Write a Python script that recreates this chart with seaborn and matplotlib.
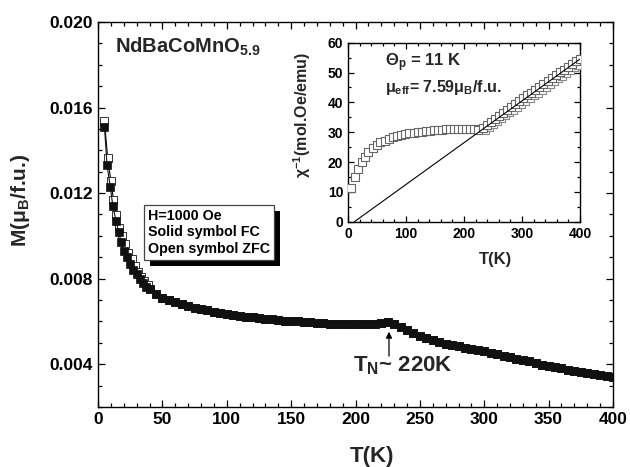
import numpy as np
import matplotlib
matplotlib.use("Agg")
import matplotlib.pyplot as plt
from matplotlib.patches import Rectangle
from matplotlib.ticker import MultipleLocator
import seaborn as sns

# ---- data ----
# main panel: M vs T, field-cooled (solid) and zero-field-cooled (open)
fc_T = [5, 7, 9.5, 11.5, 14, 16, 18, 20, 22.5, 25, 27.5, 30, 32.5, 35, 37.5, 40,
        45, 50, 55, 60, 65, 70, 75, 80, 85, 90, 95, 100, 105, 110, 115, 120, 125,
        130, 135, 140, 145, 150, 155, 160, 165, 170, 175, 180, 185, 190, 195, 200,
        205, 210, 215, 220, 225, 230, 235, 240, 245, 250, 255, 260, 265, 270, 275,
        280, 285, 290, 295, 300, 305, 310, 315, 320, 325, 330, 335, 340, 345, 350,
        355, 360, 365, 370, 375, 380, 385, 390, 395, 400]
fc_M = [0.0151, 0.0133, 0.0123, 0.0114, 0.0107, 0.0102, 0.0097, 0.0093, 0.0090,
        0.0087, 0.0084, 0.0082, 0.0080, 0.0078, 0.0076, 0.0075, 0.0073, 0.0071,
        0.0070, 0.0069, 0.0068, 0.00672, 0.00665, 0.00658, 0.00652, 0.00645,
        0.0064, 0.00633, 0.00628, 0.00625, 0.00622, 0.00619, 0.00616, 0.00613,
        0.0061, 0.00607, 0.00604, 0.00602, 0.006, 0.00598, 0.00596, 0.00594,
        0.00592, 0.0059, 0.00589, 0.00587, 0.00586, 0.00586, 0.00586, 0.00588,
        0.0059, 0.00594, 0.00598, 0.0059, 0.00575, 0.0056, 0.00545, 0.0053,
        0.00521, 0.00512, 0.00503, 0.00495, 0.00489, 0.00484, 0.00477, 0.00471,
        0.00465, 0.0046, 0.00453, 0.00446, 0.00439, 0.00432, 0.00426, 0.0042,
        0.00414, 0.00404, 0.00398, 0.00392, 0.00386, 0.0038, 0.00375, 0.0037,
        0.00364, 0.00359, 0.00354, 0.00349, 0.00344, 0.00339]
zfc_T_low = [5, 7.5, 10, 12, 14.2, 16.5, 18.5, 21, 23.5, 26, 28.5, 31, 33.5, 36, 38.5]
zfc_M_low = [0.01536, 0.01363, 0.01257, 0.01169, 0.01099, 0.01037, 0.0100, 0.0096,
             0.0092, 0.0089, 0.0086, 0.0083, 0.0081, 0.0079, 0.0077]
zfc_T = zfc_T_low + fc_T[15:]
zfc_M = zfc_M_low + fc_M[15:]

# inset: inverse susceptibility vs T
chi_T = [5, 12, 18, 24, 29, 35, 43, 50, 56, 64, 71, 78, 85, 92, 99, 106, 113, 120,
         127, 134, 141, 148, 155, 162, 169, 176, 183, 190, 197, 204, 211, 218, 225,
         232, 239, 246, 253, 260, 267, 274, 281, 288, 295, 302, 309, 316, 323, 330,
         337, 344, 351, 358, 365, 372, 379, 386, 393, 400]
chi_inv = [11.3, 15.1, 17.7, 19.9, 21.6, 23.2, 24.7, 25.7, 26.6, 27.2, 27.7, 28.3,
           28.7, 29.0, 29.3, 29.6, 29.8, 30.0, 30.2, 30.4, 30.5, 30.6, 30.7, 30.8,
           30.9, 31.0, 31.0, 31.1, 31.1, 31.1, 31.0, 30.9, 30.8, 31.3, 32.3, 33.3,
           34.3, 35.3, 36.3, 37.3, 38.3, 39.3, 40.3, 41.3, 42.3, 43.3, 44.3, 45.3,
           46.3, 47.3, 48.3, 49.2, 50.1, 51.0, 51.9, 52.8, 53.7, 54.6]
chi2_T = [236, 243, 250, 257, 264, 271, 278, 285, 292, 299, 306, 313, 320, 327,
          334, 341, 348, 355, 362, 369, 376, 383, 390, 397]
chi2_inv = [30.6, 31.6, 32.6, 33.6, 34.6, 35.6, 36.6, 37.6, 38.5, 39.5, 40.4, 41.4,
            42.4, 43.3, 44.3, 45.2, 46.1, 47.1, 48.0, 48.9, 49.8, 50.8, 51.7, 52.6]
cw_T = [11, 400]
cw_chi = [0, 54.5]

# ---- style ----
sns.set_theme(style="ticks")
plt.rcParams['font.family'] = ['Liberation Sans', 'DejaVu Sans']
plt.rcParams['font.weight'] = 'bold'
plt.rcParams['mathtext.fontset'] = 'custom'
plt.rcParams['mathtext.rm'] = 'Liberation Sans:bold'
plt.rcParams['mathtext.it'] = 'Liberation Sans:bold'
plt.rcParams['mathtext.bf'] = 'Liberation Sans:bold'
plt.rcParams['axes.linewidth'] = 1.0


def style_axis(ax, lab_size, maj_len, min_len):
    ax.tick_params(which='both', direction='in', top=True, right=True,
                   colors='black', labelsize=lab_size, width=0.9)
    ax.tick_params(which='major', length=maj_len)
    ax.tick_params(which='minor', length=min_len)
    for s in ax.spines.values():
        s.set_color('black')
    for lab in ax.get_xticklabels() + ax.get_yticklabels():
        lab.set_fontweight('bold')


fig = plt.figure(figsize=(6.3, 4.67), dpi=100)
ax = fig.add_axes([0.1556, 0.1285, 0.8174, 0.8244])

sns.lineplot(x=zfc_T, y=zfc_M, ax=ax, estimator=None, sort=False, color='black',
             linewidth=0.8, marker='s', markersize=5.6, markerfacecolor='white',
             markeredgecolor='#333333', markeredgewidth=0.7)
sns.lineplot(x=fc_T, y=fc_M, ax=ax, estimator=None, sort=False, color='#111111',
             linewidth=0.8, marker='s', markersize=5.8, markerfacecolor='#111111',
             markeredgecolor='#111111', markeredgewidth=0.5)

ax.set_xlim(0, 400)
ax.set_ylim(0.002, 0.020)
ax.xaxis.set_major_locator(MultipleLocator(50))
ax.xaxis.set_minor_locator(MultipleLocator(10))
ax.yaxis.set_major_locator(MultipleLocator(0.004))
ax.yaxis.set_minor_locator(MultipleLocator(0.001))
ax.set_yticks([0.004, 0.008, 0.012, 0.016, 0.020])
ax.set_yticklabels(['0.004', '0.008', '0.012', '0.016', '0.020'])
style_axis(ax, 12.5, 5, 3)

ax.set_xlabel('T(K)', fontsize=16, fontweight='bold')
ax.set_ylabel(r'M(μ$_{B}$/f.u.)', fontsize=15, fontweight='bold')
ax.xaxis.set_label_coords(0.532, -0.102)
ax.yaxis.set_label_coords(-0.128, 0.538)

ax.text(0.033, 0.935, r'NdBaCoMnO$_{5.9}$', transform=ax.transAxes,
        fontsize=14.5, fontweight='bold', va='center', ha='left')

# box with drop shadow
box_txt = 'H=1000 Oe\nSolid symbol FC\nOpen symbol ZFC'
box = ax.text(0.097, 0.515, box_txt, transform=ax.transAxes, fontsize=10.3,
              fontweight='bold', va='top', ha='left', linespacing=1.25, color='black',
              zorder=6,
              bbox=dict(boxstyle='square,pad=0.25', facecolor='white',
                        edgecolor='#444444', linewidth=0.9))
fig.canvas.draw()
bb = box.get_bbox_patch().get_window_extent().transformed(ax.transAxes.inverted())
dx = 6 / ax.bbox.width
dy = 6 / ax.bbox.height
ax.add_patch(Rectangle((bb.x0 + dx, bb.y0 - dy), bb.width, bb.height,
                       transform=ax.transAxes, facecolor='black', edgecolor='none',
                       zorder=5))

# Neel temperature marker
ax.annotate('', xy=(226, 0.00565), xytext=(226, 0.00425),
            arrowprops=dict(arrowstyle='-|>', color='black', lw=0.9,
                            mutation_scale=9))
ax.text(198, 0.00395, r'T$_{N}$~ 220K', fontsize=16, fontweight='bold',
        va='center', ha='left')

# ---- inset ----
ins = fig.add_axes([0.5524, 0.5253, 0.3682, 0.3833])
sns.scatterplot(x=chi2_T, y=chi2_inv, ax=ins, marker='s', s=30, facecolor='white',
                edgecolor='#888888', linewidth=0.8, zorder=3)
sns.scatterplot(x=chi_T, y=chi_inv, ax=ins, marker='s', s=30, facecolor='white',
                edgecolor='#666666', linewidth=0.8, zorder=4)
sns.lineplot(x=cw_T, y=cw_chi, ax=ins, color='black', linewidth=0.8, zorder=5)

ins.set_xlim(0, 400)
ins.set_ylim(0, 60)
ins.xaxis.set_major_locator(MultipleLocator(100))
ins.xaxis.set_minor_locator(MultipleLocator(20))
ins.yaxis.set_major_locator(MultipleLocator(10))
ins.yaxis.set_minor_locator(MultipleLocator(5))
style_axis(ins, 10, 4, 2.5)
ins.set_xlabel('T(K)', fontsize=12, fontweight='bold')
ins.set_ylabel(r'χ$^{-1}$(mol.Oe/emu)', fontsize=11.5, fontweight='bold')
ins.xaxis.set_label_coords(0.634, -0.17)
ins.yaxis.set_label_coords(-0.15, 0.596)

ins.text(0.16, 0.887, r'Θ$_{p}$ = 11 K', transform=ins.transAxes, fontsize=12,
         fontweight='bold', va='center', ha='left')
ins.text(0.16, 0.747, r'μ$_{eff}$= 7.59μ$_{B}$/f.u.', transform=ins.transAxes,
         fontsize=11.5, fontweight='bold', va='center', ha='left')

fig.savefig('out.png', dpi=100)
